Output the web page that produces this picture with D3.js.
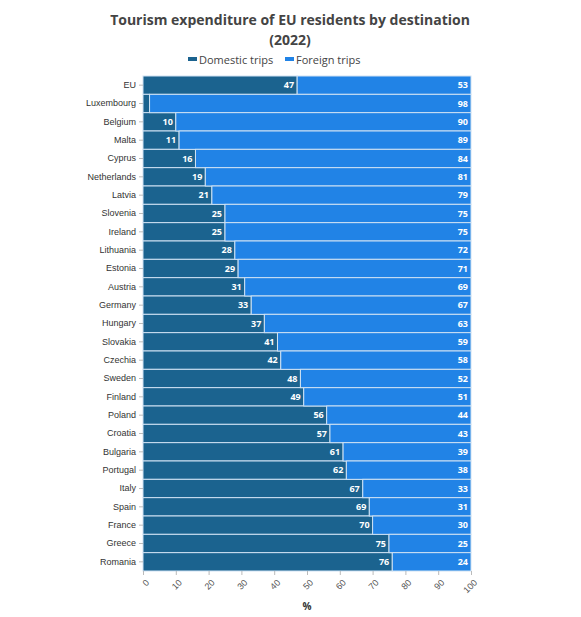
<!DOCTYPE html>
<html><head><meta charset="UTF-8">
<script src="https://cdn.jsdelivr.net/npm/d3@7"></script>
<style>
body { margin: 0; background: #fff; font-family: "Open Sans", sans-serif; }
.title { font-size: 14px; font-weight: bold; fill: #444; }
.legend text { font-size: 11px; fill: #444; }
.y.axis text { font-size: 9px; fill: #333; }
.x.axis text { font-size: 9px; fill: #555; }
.axis path { display: none; }
.axis line { stroke: #bbb; }
.bar { stroke: #cfe2f3; stroke-width: 1; }
.lbl { font-size: 9px; font-weight: bold; fill: #fff; }
</style>
</head><body>
<div id="chart"></div>
<script>
// data
var countries = ["EU","Luxembourg","Belgium","Malta","Cyprus","Netherlands","Latvia","Slovenia","Ireland","Lithuania","Estonia","Austria","Germany","Hungary","Slovakia","Czechia","Sweden","Finland","Poland","Croatia","Bulgaria","Portugal","Italy","Spain","France","Greece","Romania"];
var domestic = [47,2,10,11,16,19,21,25,25,28,29,31,33,37,41,42,48,49,56,57,61,62,67,69,70,75,76];
var foreign  = [53,98,90,89,84,81,79,75,75,72,71,69,67,63,59,58,52,51,44,43,39,38,33,31,30,25,24];
var seriesNames = ["Domestic trips","Foreign trips"];
var colors = ["#1b638f","#2183e6"];
var xTicks = [0,10,20,30,40,50,60,70,80,90,100];

var W = 581, H = 617;
var margin = {top: 76, right: 110, bottom: 46, left: 143};
var width = W - margin.left - margin.right,
    height = H - margin.top - margin.bottom;

var svg = d3.select("#chart").append("svg")
    .attr("width", W).attr("height", H);

svg.append("text").attr("class", "title")
    .attr("x", 290).attr("y", 25).attr("text-anchor", "middle")
    .text("Tourism expenditure of EU residents by destination");
svg.append("text").attr("class", "title")
    .attr("x", 290).attr("y", 45).attr("text-anchor", "middle")
    .text("(2022)");

// legend
var leg = svg.append("g").attr("class", "legend");
var lx = [188, 285];
seriesNames.forEach(function(s, i) {
  leg.append("rect").attr("x", lx[i]).attr("y", 57).attr("width", 9).attr("height", 4)
     .attr("fill", colors[i]);
  leg.append("text").attr("x", lx[i] + 11).attr("y", 64).text(s);
});

var g = svg.append("g").attr("transform", "translate(" + margin.left + "," + margin.top + ")");

var x = d3.scaleLinear().domain([0, 100]).range([0, width]);
var y = d3.scaleBand().domain(countries).range([0, height]).padding(0);

var rows = countries.map(function(c, i) { return {c: c, d: domestic[i], f: foreign[i]}; });

g.selectAll(".dom").data(rows).enter().append("rect")
  .attr("class", "bar dom")
  .attr("x", x(0))
  .attr("y", function(d) { return y(d.c); })
  .attr("width", function(d) { return x(d.d) - x(0); })
  .attr("height", y.bandwidth())
  .attr("fill", colors[0]);

g.selectAll(".for").data(rows).enter().append("rect")
  .attr("class", "bar for")
  .attr("x", function(d) { return x(d.d); })
  .attr("y", function(d) { return y(d.c); })
  .attr("width", function(d) { return x(d.d + d.f) - x(d.d); })
  .attr("height", y.bandwidth())
  .attr("fill", colors[1]);

// value labels (skip very small segments)
g.selectAll(".ld").data(rows.filter(function(d) { return d.d >= 5; })).enter().append("text")
  .attr("class", "lbl").attr("text-anchor", "end")
  .attr("x", function(d) { return x(d.d) - 3; })
  .attr("y", function(d) { return y(d.c) + y.bandwidth() / 2; })
  .attr("dy", "0.35em")
  .text(function(d) { return d.d; });

g.selectAll(".lf").data(rows).enter().append("text")
  .attr("class", "lbl").attr("text-anchor", "end")
  .attr("x", function(d) { return x(d.d + d.f) - 3; })
  .attr("y", function(d) { return y(d.c) + y.bandwidth() / 2; })
  .attr("dy", "0.35em")
  .text(function(d) { return d.f; });

g.append("g").attr("class", "y axis")
  .call(d3.axisLeft(y).tickSize(4).tickPadding(3));

g.append("g").attr("class", "x axis")
  .attr("transform", "translate(0," + height + ")")
  .call(d3.axisBottom(x).tickValues(xTicks).tickSize(4))
  .selectAll("text")
  .attr("text-anchor", "end")
  .attr("x", 0).attr("y", 0).attr("dy", "0.35em")
  .attr("transform", "translate(4,10) rotate(-45)")
  .attr("fill", "#555");

svg.append("text")
  .attr("x", margin.left + width / 2).attr("y", 610)
  .attr("text-anchor", "middle")
  .style("font-size", "10px").style("font-weight", "bold").style("fill", "#333")
  .text("%");
</script>
</body></html>
